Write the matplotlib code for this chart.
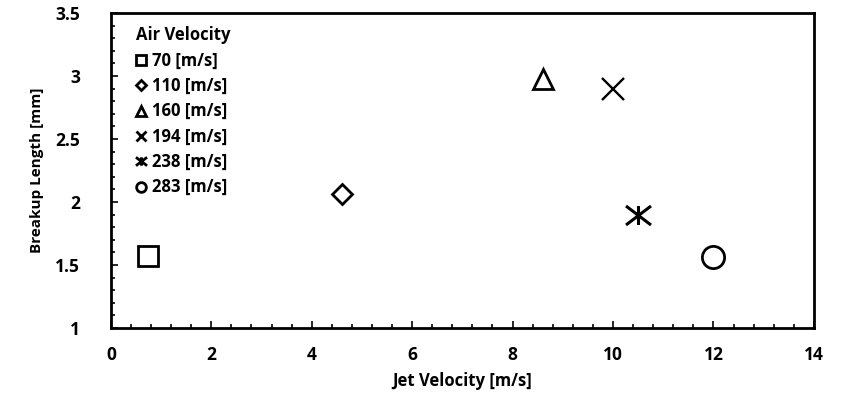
import matplotlib.pyplot as plt
from matplotlib.lines import Line2D
from matplotlib.path import Path

plt.rcParams['font.family'] = ['Open Sans', 'DejaVu Sans']

air_vel = ['70 [m/s]', '110 [m/s]', '160 [m/s]', '194 [m/s]', '238 [m/s]', '283 [m/s]']
jet_vel = [0.75, 4.6, 8.6, 10.0, 10.5, 12.0]
breakup = [1.57, 2.06, 2.98, 2.9, 1.9, 1.56]

# flat asterisk: an X plus a vertical bar
star = Path([(0, -0.76), (0, 0.76), (-1, -0.76), (1, 0.76), (-1, 0.76), (1, -0.76)],
            [Path.MOVETO, Path.LINETO, Path.MOVETO, Path.LINETO, Path.MOVETO, Path.LINETO])
markers = ['s', 'D', '^', 'x', star, 'o']
sizes = [15, 10, 15, 16, 18, 16]
widths = [2, 2, 2, 1.7, 2.2, 2]
leg_sizes = [7, 5, 7, 7, 8, 7]

fig = plt.figure(figsize=(8.46, 3.97), dpi=100)
ax = fig.add_axes([0.131, 0.174, 0.831, 0.793])

for x, y, m, s, w in zip(jet_vel, breakup, markers, sizes, widths):
    ax.plot(x, y, linestyle='none', marker=m, markersize=s, markerfacecolor='none',
            markeredgecolor='black', markeredgewidth=w)

ax.set_xlim(0, 14)
ax.set_ylim(1, 3.5)
ax.set_xticks(range(0, 15, 2))
ax.set_yticks([1, 1.5, 2, 2.5, 3, 3.5])
ax.set_yticklabels(['1', '1.5', '2', '2.5', '3', '3.5'])
ax.set_xticks([i * 0.4 for i in range(36)], minor=True)
ax.set_yticks([1 + i * 0.1 for i in range(26)], minor=True)
ax.tick_params(which='both', direction='in', width=1.2, labelsize=12.5)
ax.tick_params(axis='x', pad=13)
ax.tick_params(axis='y', pad=22)
ax.tick_params(which='major', length=5)
ax.tick_params(which='minor', length=3)
for lab in ax.get_xticklabels() + ax.get_yticklabels():
    lab.set_fontweight('bold')
for sp in ax.spines.values():
    sp.set_linewidth(2)

ax.set_xlabel('Jet Velocity [m/s]', fontsize=12, fontweight='bold', labelpad=6)
ax.set_ylabel('Breakup Length [mm]', fontsize=11, fontweight='bold', labelpad=8)

handles = [Line2D([], [], linestyle='none', marker=m, markersize=s, markerfacecolor='none',
                  markeredgecolor='black', markeredgewidth=2)
           for m, s in zip(markers, leg_sizes)]
leg = ax.legend(handles, air_vel, title='Air Velocity', loc='upper left', frameon=False,
                prop={'weight': 'bold', 'size': 12}, handlelength=0.6, handletextpad=0.35,
                labelspacing=0.44, borderaxespad=0.3, bbox_to_anchor=(0.019, 0.995))
leg.get_title().set_fontweight('bold')
leg.get_title().set_fontsize(12)
leg._legend_box.align = 'left'

fig.savefig('out.png', dpi=100)
